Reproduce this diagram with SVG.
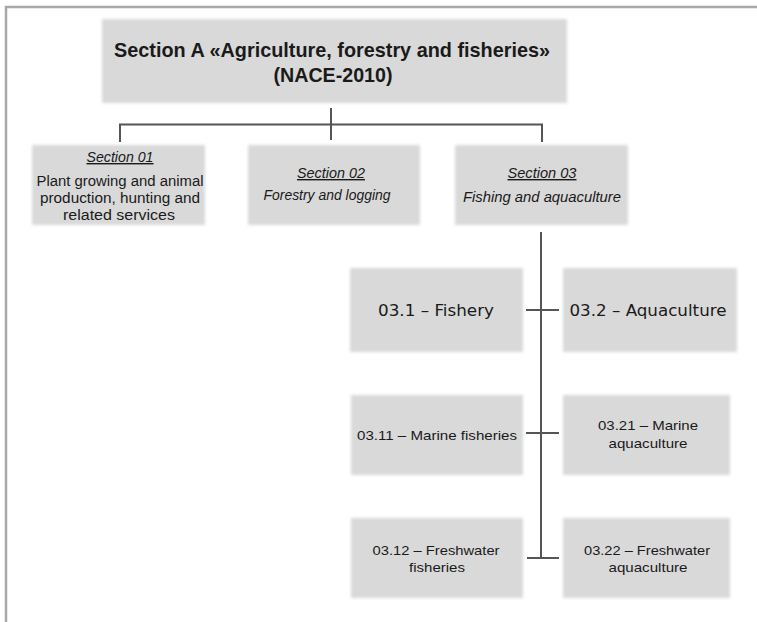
<svg xmlns="http://www.w3.org/2000/svg" width="757" height="622" viewBox="0 0 757 622">
<defs>
<filter id="soft" x="-5%" y="-10%" width="110%" height="120%"><feGaussianBlur stdDeviation="1.6"/></filter>
<style>
.box{fill:#d9d9d9;filter:url(#soft)}
.frame{stroke:#a8a8a8;stroke-width:2.5;fill:none}
.con{stroke:#555;stroke-width:2;fill:none}
.t{font-family:"Liberation Sans",Arial,sans-serif;fill:#1a1a1a;text-anchor:middle}
.title{font-weight:bold;font-size:21px}
.sec{font-size:14px}
.it{font-style:italic}
.ul{text-decoration:underline}
.v{font-family:"DejaVu Sans",Verdana,sans-serif;font-size:15px;fill:#1a1a1a;text-anchor:middle}
.s{font-size:13.5px}
</style>
</defs>
<rect width="757" height="622" fill="#fff"/>
<path class="frame" d="M6,622 V7 H757"/>

<g id="title">
<rect class="box" x="102" y="19" width="465" height="84"/>
<text class="t title" x="332" y="57" textLength="436" lengthAdjust="spacingAndGlyphs">Section A «Agriculture, forestry and fisheries»</text>
<text class="t title" x="333" y="82" textLength="119" lengthAdjust="spacingAndGlyphs">(NACE-2010)</text>
</g>

<g id="section01">
<rect class="box" x="32" y="145" width="173" height="80"/>
<text class="t sec it ul" x="120" y="162" textLength="67" lengthAdjust="spacingAndGlyphs">Section 01</text>
<text class="t sec" x="120" y="186" textLength="167" lengthAdjust="spacingAndGlyphs">Plant growing and animal</text>
<text class="t sec" x="120" y="203" textLength="160" lengthAdjust="spacingAndGlyphs">production, hunting and</text>
<text class="t sec" x="119" y="220" textLength="112" lengthAdjust="spacingAndGlyphs">related services</text>
</g>

<g id="section02">
<rect class="box" x="248" y="145" width="172" height="80"/>
<text class="t sec it ul" x="331" y="178" textLength="68" lengthAdjust="spacingAndGlyphs">Section 02</text>
<text class="t sec it" x="327" y="200" textLength="127" lengthAdjust="spacingAndGlyphs">Forestry and logging</text>
</g>

<g id="section03">
<rect class="box" x="455" y="145" width="173" height="80"/>
<text class="t sec it ul" x="542" y="178" textLength="69" lengthAdjust="spacingAndGlyphs">Section 03</text>
<text class="t sec it" x="542" y="202" textLength="158" lengthAdjust="spacingAndGlyphs">Fishing and aquaculture</text>
</g>

<g id="n031">
<rect class="box" x="350" y="268" width="173" height="84"/>
<text class="v" x="436" y="316" textLength="116" lengthAdjust="spacingAndGlyphs">03.1 – Fishery</text>
</g>
<g id="n032">
<rect class="box" x="563" y="268" width="174" height="84"/>
<text class="v" x="648" y="316" textLength="157" lengthAdjust="spacingAndGlyphs">03.2 – Aquaculture</text>
</g>

<g id="n0311">
<rect class="box" x="351" y="395" width="172" height="80"/>
<text class="t s" x="437" y="440" textLength="160" lengthAdjust="spacingAndGlyphs">03.11 – Marine fisheries</text>
</g>
<g id="n0321">
<rect class="box" x="563" y="395" width="167" height="80"/>
<text class="t s" x="648" y="430" textLength="100" lengthAdjust="spacingAndGlyphs">03.21 – Marine</text>
<text class="t s" x="648" y="448" textLength="79" lengthAdjust="spacingAndGlyphs">aquaculture</text>
</g>

<g id="n0312">
<rect class="box" x="351" y="518" width="172" height="80"/>
<text class="t s" x="436" y="555" textLength="127" lengthAdjust="spacingAndGlyphs">03.12 – Freshwater</text>
<text class="t s" x="437" y="572" textLength="56" lengthAdjust="spacingAndGlyphs">fisheries</text>
</g>
<g id="n0322">
<rect class="box" x="563" y="518" width="167" height="80"/>
<text class="t s" x="647" y="555" textLength="126" lengthAdjust="spacingAndGlyphs">03.22 – Freshwater</text>
<text class="t s" x="648" y="572" textLength="79" lengthAdjust="spacingAndGlyphs">aquaculture</text>
</g>

<g id="connectors">
<path class="con" d="M331,108 V140"/>
<path class="con" d="M120,142 V124.5 H542 V142"/>
<path class="con" d="M541,232 V558"/>
<path class="con" d="M526,310 H559"/>
<path class="con" d="M526,433 H559"/>
<path class="con" d="M527,558 H559"/>
</g>
</svg>
